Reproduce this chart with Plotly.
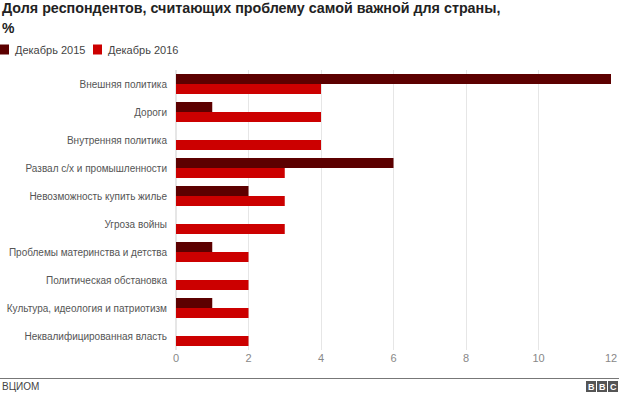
import plotly.graph_objects as go

categories = ["Внешняя политика", "Дороги", "Внутренняя политика",
              "Развал с/х и промышленности", "Невозможность купить жилье",
              "Угроза войны", "Проблемы материнства и детства",
              "Политическая обстановка", "Культура, идеология и патриотизм",
              "Неквалифицированная власть"]
dec_2015 = [12, 1, None, 6, 2, None, 1, None, 1, None]
dec_2016 = [4, 4, 4, 3, 3, 3, 2, 2, 2, 2]
x_ticks = [0, 2, 4, 6, 8, 10, 12]
series_names = ["Декабрь 2015", "Декабрь 2016"]
series_colors = ["#5c0000", "#cc0000"]

W, H = 640, 394
L, R, T, B = 176, 611, 70, 350

def px(x):
    return (x - L) / (R - L)

def py(y):
    return (B - y) / (B - T)

fig = go.Figure()
for name, vals, col in zip(series_names, [dec_2015, dec_2016], series_colors):
    fig.add_trace(go.Bar(y=categories, x=vals, orientation="h", name=name,
                         marker=dict(color=col, line=dict(width=0)), showlegend=False))

font = "Liberation Sans, Arial, sans-serif"
fig.update_layout(
    width=W, height=H,
    margin=dict(l=L, r=W - R, t=T, b=H - B, autoexpand=False),
    paper_bgcolor="white", plot_bgcolor="white",
    barmode="group", bargap=0.28, bargroupgap=0,
    font=dict(family=font, size=11, color="#555"),
    showlegend=False,
    xaxis=dict(range=[0, 12], tickvals=x_ticks, showgrid=True, gridcolor="#e6e6e6",
               zeroline=True, zerolinecolor="#e6e6e6", showline=False, automargin=False,
               tickfont=dict(size=11, color="#888"), ticks="", fixedrange=True),
    yaxis=dict(categoryorder="array", categoryarray=categories, autorange="reversed",
               showgrid=False, showline=False, ticks="", ticklen=0, automargin=False,
               ticklabelstandoff=8,
               tickfont=dict(size=10, color="#555")),
)

shapes = []
annotations = []
annotations.append(dict(text="<b>Доля респондентов, считающих проблему самой важной для страны,</b>",
                        xref="paper", yref="paper", x=px(0), y=py(8), xanchor="left", yanchor="middle",
                        showarrow=False, font=dict(size=14.3, color="#222", family=font)))
annotations.append(dict(text="<b>%</b>", xref="paper", yref="paper", x=px(0), y=py(28),
                        xanchor="left", yanchor="middle", showarrow=False,
                        font=dict(size=14, color="#222", family=font)))
# legend
leg_x = [0, 93]
for lx, name, col in zip(leg_x, series_names, series_colors):
    shapes.append(dict(type="rect", xref="paper", yref="paper", x0=px(lx), x1=px(lx + 9),
                       y0=py(54.5), y1=py(44.5), fillcolor=col, line=dict(width=0)))
    annotations.append(dict(text=name, xref="paper", yref="paper", x=px(lx + 13), y=py(50),
                            xanchor="left", yanchor="middle", showarrow=False,
                            font=dict(size=11, color="#444", family=font)))
# bottom rule
shapes.append(dict(type="line", xref="paper", yref="paper", x0=px(0), x1=px(619),
                   y0=py(378.5), y1=py(378.5), line=dict(color="#777", width=1)))
annotations.append(dict(text="ВЦИОМ", xref="paper", yref="paper", x=px(0), y=py(386.5),
                        xanchor="left", yanchor="middle", showarrow=False,
                        font=dict(size=10, color="#444", family=font)))
# BBC logo
for i, letter in enumerate("BBC"):
    x0 = 586 + i * 11
    shapes.append(dict(type="rect", xref="paper", yref="paper", x0=px(x0), x1=px(x0 + 10),
                       y0=py(392), y1=py(381), fillcolor="#555", line=dict(width=0)))
    annotations.append(dict(text=f"<b>{letter}</b>", xref="paper", yref="paper",
                            x=px(x0 + 5), y=py(386.5), xanchor="center", yanchor="middle",
                            showarrow=False, font=dict(size=9, color="white", family=font)))
fig.update_layout(shapes=shapes, annotations=annotations)

fig.write_html("out.html", config={"displayModeBar": False},
               post_script="document.body.style.margin='0px';document.body.style.overflow='hidden';")
